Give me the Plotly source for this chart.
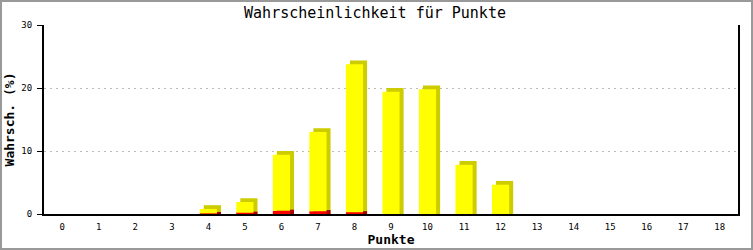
import plotly.graph_objects as go

categories = list(range(19))
tick_labels = [str(c) for c in categories]
red_values = [0, 0, 0, 0, 0.1, 0.2, 0.5, 0.45, 0.27, 0, 0, 0, 0, 0, 0, 0, 0, 0, 0]
yellow_values = [0, 0, 0, 0, 0.7, 1.7, 8.9, 12.55, 23.5, 19.4, 19.8, 7.8, 4.65, 0, 0, 0, 0, 0, 0]
totals = [r + y for r, y in zip(red_values, yellow_values)]

W, H = 753, 250
ML, MR, MT, MB = 44, 15, 25, 36
pw, ph = W - ML - MR, H - MT - MB

bw = 0.47
dx = 0.11   # depth shift in category units
dy = 0.6    # depth shift in value units

fig = go.Figure()
# shadow / side faces
fig.add_trace(go.Bar(x=categories, y=[t + dy if t > 0 else 0 for t in totals], base=0,
                     width=bw, offset=-bw / 2 + dx, marker=dict(color="#cccc00", line_width=0),
                     hoverinfo="skip", showlegend=False))
fig.add_trace(go.Bar(x=categories, y=[r + dy * 0.3 if r > 0 else 0 for r in red_values], base=0,
                     width=bw, offset=-bw / 2 + dx, marker=dict(color="#aa0000", line_width=0),
                     hoverinfo="skip", showlegend=False))
# front faces
fig.add_trace(go.Bar(x=categories, y=red_values, base=0, width=bw, offset=-bw / 2,
                     marker=dict(color="#ff0000", line_width=0), showlegend=False))
fig.add_trace(go.Bar(x=categories, y=yellow_values, base=red_values, width=bw, offset=-bw / 2,
                     marker=dict(color="#ffff00", line_width=0), showlegend=False))

font = "DejaVu Sans Mono"
fig.update_layout(
    width=W, height=H, barmode="overlay",
    margin=dict(l=ML, r=MR, t=MT, b=MB, pad=0, autoexpand=False),
    paper_bgcolor="white", plot_bgcolor="white",
    title=dict(text="Wahrscheinlichkeit für Punkte", x=375 / W, xanchor="center",
               y=1 - 13 / H, yanchor="middle", font=dict(family=font, size=15, color="black")),
    xaxis=dict(tickmode="array", tickvals=categories, ticktext=tick_labels, range=[-0.5, 18.5],
               showline=True, linecolor="black", linewidth=2, ticks="outside", ticklen=3,
               tickcolor="white", showgrid=False, automargin=False,
               zeroline=False, tickfont=dict(family=font, size=9, color="black"),
               title=dict(text="<b>Punkte</b>", font=dict(family=font, size=13, color="black"), standoff=2)),
    yaxis=dict(range=[0, 30], tickvals=[0, 10, 20, 30], showline=True, mirror=True, automargin=False,
               linecolor="black", linewidth=2, ticks="outside", ticklen=5, tickcolor="black",
               ticklabelstandoff=3,
               showgrid=True, gridcolor="#bbbbbb", griddash="2px,4px", gridwidth=1, zeroline=False,
               tickfont=dict(family=font, size=9, color="black"),
               title=dict(text="<b>Wahrsch. (%)</b>", font=dict(family=font, size=13, color="black"), standoff=4)),
    shapes=[dict(type="rect", xref="paper", yref="paper",
                 x0=-ML / pw + 1 / pw, x1=(W - ML - 1) / pw,
                 y0=-MB / ph + 1 / ph, y1=(H - MB - 1) / ph,
                 line=dict(color="#999999", width=2), fillcolor="rgba(0,0,0,0)")],
)

fig.write_html("out.html")
